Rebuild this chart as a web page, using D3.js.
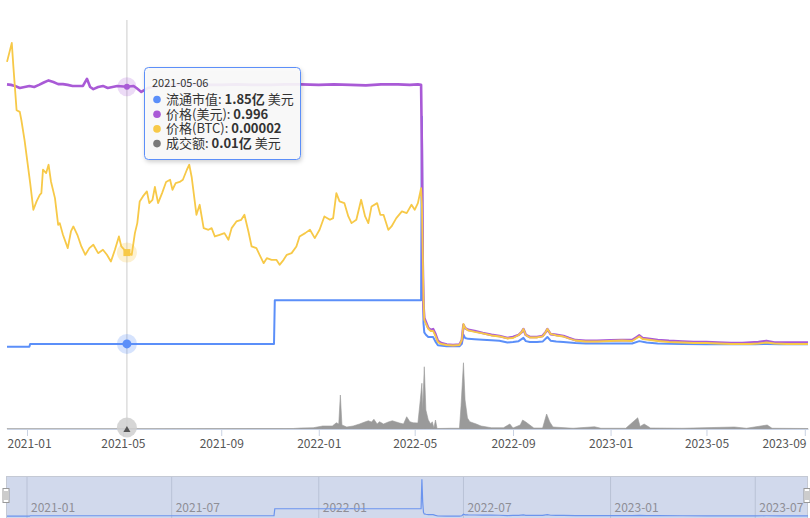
<!DOCTYPE html>
<html>
<head>
<meta charset="utf-8">
<script src="https://cdn.jsdelivr.net/npm/d3@7"></script>
<style>
  body { margin: 0; background: #fff; }
  svg { display: block; font-family: "Microsoft YaHei", "Noto Sans CJK SC", sans-serif; }
</style>
</head>
<body>
<svg id="chart" width="810" height="518"></svg>
<script>
// market cap, in 亿 USD
var marketCap = [
  ["2020-12-07", 1.79], ["2021-01-04", 1.79], ["2021-01-05", 1.85], ["2021-05-06", 1.85],
  ["2021-11-06", 1.85], ["2021-11-07", 2.80], ["2022-05-09", 2.80], ["2022-05-10", 6.79],
  ["2022-05-11", 3.75], ["2022-05-12", 2.30], ["2022-05-13", 2.10], ["2022-05-15", 2.05],
  ["2022-05-18", 2.00], ["2022-05-24", 2.00], ["2022-05-27", 1.90], ["2022-05-30", 1.82],
  ["2022-06-10", 1.80], ["2022-06-26", 1.80], ["2022-06-29", 1.85], ["2022-07-01", 2.05],
  ["2022-07-03", 1.98], ["2022-07-07", 1.96], ["2022-07-15", 1.95], ["2022-07-25", 1.94],
  ["2022-08-05", 1.93], ["2022-08-15", 1.92], ["2022-08-25", 1.88], ["2022-09-01", 1.89],
  ["2022-09-08", 1.91], ["2022-09-14", 1.98], ["2022-09-17", 1.91], ["2022-09-22", 1.89],
  ["2022-10-01", 1.89], ["2022-10-08", 1.90], ["2022-10-14", 2.00], ["2022-10-18", 1.92],
  ["2022-10-25", 1.90], ["2022-11-03", 1.89], ["2022-11-18", 1.87], ["2022-12-01", 1.86],
  ["2023-01-28", 1.86], ["2023-02-06", 1.91], ["2023-02-15", 1.88], ["2023-03-01", 1.86],
  ["2023-04-01", 1.85], ["2023-05-01", 1.84], ["2023-07-01", 1.84], ["2023-07-15", 1.85],
  ["2023-08-01", 1.84], ["2023-09-05", 1.84]
];

// price in USD
var priceUsd = [
  ["2020-12-07", 1.005], ["2020-12-12", 1.003], ["2020-12-17", 0.999], ["2020-12-23", 0.991],
  ["2020-12-29", 0.995], ["2021-01-04", 0.999], ["2021-01-10", 0.995], ["2021-01-16", 1.003],
  ["2021-01-22", 1.012], ["2021-01-28", 1.020], ["2021-02-03", 1.014], ["2021-02-09", 1.006],
  ["2021-02-15", 1.006], ["2021-02-21", 1.003], ["2021-02-27", 0.999], ["2021-03-06", 0.999],
  ["2021-03-12", 0.999], ["2021-03-17", 1.026], ["2021-03-21", 0.995], ["2021-03-25", 0.987],
  ["2021-03-31", 0.995], ["2021-04-06", 0.999], ["2021-04-12", 0.991], ["2021-04-18", 0.995],
  ["2021-04-24", 0.999], ["2021-05-06", 0.996], ["2021-05-14", 0.999], ["2021-05-18", 0.991],
  ["2021-05-24", 0.976], ["2021-06-01", 0.991], ["2021-06-15", 0.999], ["2021-07-01", 1.003],
  ["2021-07-20", 1.006], ["2021-08-10", 1.003], ["2021-09-01", 1.003], ["2021-09-20", 1.005],
  ["2021-10-10", 1.003], ["2021-11-01", 1.003], ["2021-11-20", 1.005], ["2021-12-10", 1.005],
  ["2022-01-01", 1.003], ["2022-01-20", 1.005], ["2022-02-10", 1.003], ["2022-03-01", 1.001],
  ["2022-03-20", 1.005], ["2022-04-10", 1.005], ["2022-04-25", 1.003], ["2022-05-05", 1.005],
  ["2022-05-09", 1.003], ["2022-05-10", 0.755], ["2022-05-11", 0.335], ["2022-05-12", 0.164],
  ["2022-05-13", 0.114], ["2022-05-15", 0.099], ["2022-05-18", 0.076], ["2022-05-21", 0.069],
  ["2022-05-24", 0.072], ["2022-05-27", 0.053], ["2022-05-30", 0.027], ["2022-06-03", 0.019],
  ["2022-06-10", 0.013], ["2022-06-18", 0.011], ["2022-06-26", 0.013], ["2022-06-29", 0.030],
  ["2022-07-01", 0.088], ["2022-07-03", 0.076], ["2022-07-07", 0.069], ["2022-07-15", 0.065],
  ["2022-07-25", 0.057], ["2022-08-05", 0.050], ["2022-08-15", 0.046], ["2022-08-25", 0.038],
  ["2022-09-01", 0.042], ["2022-09-08", 0.050], ["2022-09-12", 0.061], ["2022-09-14", 0.072],
  ["2022-09-17", 0.050], ["2022-09-22", 0.042], ["2022-10-01", 0.042], ["2022-10-08", 0.046],
  ["2022-10-12", 0.061], ["2022-10-14", 0.072], ["2022-10-18", 0.053], ["2022-10-25", 0.050],
  ["2022-11-03", 0.046], ["2022-11-10", 0.038], ["2022-11-18", 0.030], ["2022-12-01", 0.027],
  ["2022-12-15", 0.027], ["2023-01-01", 0.029], ["2023-01-15", 0.030], ["2023-01-28", 0.030],
  ["2023-02-03", 0.042], ["2023-02-06", 0.048], ["2023-02-10", 0.038], ["2023-02-15", 0.036],
  ["2023-03-01", 0.030], ["2023-03-15", 0.027], ["2023-04-01", 0.025], ["2023-04-15", 0.023],
  ["2023-05-01", 0.023], ["2023-05-15", 0.021], ["2023-06-01", 0.019], ["2023-06-15", 0.019],
  ["2023-06-25", 0.021], ["2023-07-05", 0.023], ["2023-07-15", 0.027], ["2023-07-25", 0.021],
  ["2023-08-10", 0.021], ["2023-08-25", 0.021], ["2023-09-05", 0.021]
];

// price in BTC
var priceBtc = [
  ["2020-12-07", 52.0e-6], ["2020-12-13", 55.4e-6], ["2020-12-15", 51.1e-6], ["2020-12-19", 43.3e-6],
  ["2020-12-23", 43.0e-6], ["2020-12-25", 41.5e-6], ["2020-12-29", 37.9e-6], ["2021-01-05", 30.2e-6],
  ["2021-01-09", 25.4e-6], ["2021-01-13", 26.9e-6], ["2021-01-17", 28.1e-6], ["2021-01-19", 28.4e-6],
  ["2021-01-21", 32.6e-6], ["2021-01-25", 32.0e-6], ["2021-01-28", 33.5e-6], ["2021-01-31", 30.5e-6],
  ["2021-02-05", 27.5e-6], ["2021-02-09", 22.7e-6], ["2021-02-11", 23.0e-6], ["2021-02-15", 20.9e-6],
  ["2021-02-21", 18.5e-6], ["2021-02-25", 21.5e-6], ["2021-02-28", 22.4e-6], ["2021-03-05", 20.9e-6],
  ["2021-03-10", 18.8e-6], ["2021-03-15", 17.3e-6], ["2021-03-20", 18.5e-6], ["2021-03-25", 19.1e-6],
  ["2021-03-31", 17.6e-6], ["2021-04-06", 18.2e-6], ["2021-04-11", 17.3e-6], ["2021-04-16", 16.1e-6],
  ["2021-04-21", 18.2e-6], ["2021-04-26", 20.6e-6], ["2021-04-29", 18.8e-6], ["2021-05-06", 17.7e-6],
  ["2021-05-12", 17.3e-6], ["2021-05-16", 21.2e-6], ["2021-05-19", 23.0e-6], ["2021-05-22", 26.9e-6],
  ["2021-05-26", 27.8e-6], ["2021-05-31", 28.7e-6], ["2021-06-03", 26.6e-6], ["2021-06-07", 27.2e-6],
  ["2021-06-10", 29.5e-6], ["2021-06-14", 26.6e-6], ["2021-06-19", 28.4e-6], ["2021-06-24", 30.4e-6],
  ["2021-06-29", 30.8e-6], ["2021-07-02", 29.0e-6], ["2021-07-06", 30.2e-6], ["2021-07-11", 30.4e-6],
  ["2021-07-15", 30.8e-6], ["2021-07-20", 32.6e-6], ["2021-07-23", 33.5e-6], ["2021-07-26", 31.3e-6],
  ["2021-08-01", 24.5e-6], ["2021-08-05", 26.3e-6], ["2021-08-10", 22.1e-6], ["2021-08-16", 21.8e-6],
  ["2021-08-20", 22.1e-6], ["2021-08-24", 20.6e-6], ["2021-08-30", 20.9e-6], ["2021-09-05", 21.2e-6],
  ["2021-09-10", 20.0e-6], ["2021-09-14", 22.1e-6], ["2021-09-20", 23.3e-6], ["2021-09-26", 23.6e-6],
  ["2021-09-30", 24.5e-6], ["2021-10-05", 21.5e-6], ["2021-10-09", 18.8e-6], ["2021-10-15", 18.5e-6],
  ["2021-10-19", 17.3e-6], ["2021-10-24", 15.8e-6], ["2021-10-28", 16.7e-6], ["2021-11-03", 16.4e-6],
  ["2021-11-09", 16.4e-6], ["2021-11-13", 15.5e-6], ["2021-11-18", 16.4e-6], ["2021-11-22", 17.3e-6],
  ["2021-11-28", 17.6e-6], ["2021-12-04", 18.8e-6], ["2021-12-08", 20.6e-6], ["2021-12-15", 21.2e-6],
  ["2021-12-21", 21.8e-6], ["2021-12-27", 20.3e-6], ["2022-01-02", 21.8e-6], ["2022-01-08", 24.2e-6],
  ["2022-01-15", 23.6e-6], ["2022-01-19", 23.9e-6], ["2022-01-23", 28.4e-6], ["2022-01-27", 26.9e-6],
  ["2022-02-02", 26.6e-6], ["2022-02-07", 24.2e-6], ["2022-02-11", 23.0e-6], ["2022-02-17", 23.6e-6],
  ["2022-02-23", 27.2e-6], ["2022-02-28", 24.2e-6], ["2022-03-04", 23.0e-6], ["2022-03-08", 26.0e-6],
  ["2022-03-15", 26.6e-6], ["2022-03-19", 24.5e-6], ["2022-03-23", 24.5e-6], ["2022-03-29", 21.8e-6],
  ["2022-04-02", 22.4e-6], ["2022-04-08", 23.9e-6], ["2022-04-15", 25.1e-6], ["2022-04-21", 24.8e-6],
  ["2022-04-27", 26.3e-6], ["2022-05-01", 25.4e-6], ["2022-05-05", 26.6e-6], ["2022-05-09", 29.3e-6],
  ["2022-05-10", 26.3e-6], ["2022-05-11", 18.2e-6], ["2022-05-12", 9.2e-6], ["2022-05-13", 5.6e-6],
  ["2022-05-15", 4.9e-6], ["2022-05-18", 4.0e-6], ["2022-05-21", 3.6e-6], ["2022-05-24", 3.6e-6],
  ["2022-05-27", 2.7e-6], ["2022-05-30", 1.6e-6], ["2022-06-03", 1.26e-6], ["2022-06-10", 1.08e-6],
  ["2022-06-18", 0.99e-6], ["2022-06-26", 1.08e-6], ["2022-06-29", 1.98e-6], ["2022-07-01", 4.86e-6],
  ["2022-07-03", 4.14e-6], ["2022-07-07", 3.69e-6], ["2022-07-15", 3.42e-6], ["2022-07-25", 3.15e-6],
  ["2022-08-05", 2.79e-6], ["2022-08-15", 2.61e-6], ["2022-08-25", 2.25e-6], ["2022-09-01", 2.34e-6],
  ["2022-09-08", 2.88e-6], ["2022-09-12", 3.42e-6], ["2022-09-14", 3.96e-6], ["2022-09-17", 2.88e-6],
  ["2022-09-22", 2.43e-6], ["2022-10-01", 2.43e-6], ["2022-10-08", 2.61e-6], ["2022-10-12", 3.42e-6],
  ["2022-10-14", 3.96e-6], ["2022-10-18", 3.06e-6], ["2022-10-25", 2.79e-6], ["2022-11-03", 2.61e-6],
  ["2022-11-10", 2.25e-6], ["2022-11-18", 1.89e-6], ["2022-12-01", 1.71e-6], ["2022-12-15", 1.71e-6],
  ["2023-01-01", 1.80e-6], ["2023-01-15", 1.89e-6], ["2023-01-28", 1.80e-6], ["2023-02-03", 2.34e-6],
  ["2023-02-06", 2.61e-6], ["2023-02-10", 2.16e-6], ["2023-02-15", 2.07e-6], ["2023-03-01", 1.80e-6],
  ["2023-03-15", 1.62e-6], ["2023-04-01", 1.53e-6], ["2023-04-15", 1.44e-6], ["2023-05-01", 1.44e-6],
  ["2023-05-15", 1.35e-6], ["2023-06-01", 1.26e-6], ["2023-06-25", 1.26e-6], ["2023-07-05", 1.35e-6],
  ["2023-07-15", 1.53e-6], ["2023-07-25", 1.35e-6], ["2023-08-10", 1.26e-6], ["2023-09-05", 1.26e-6]
];

// 24h volume, in 亿 USD
var volume = [
  ["2020-12-07", 0.01], ["2021-05-06", 0.01], ["2021-11-30", 0.02], ["2021-12-10", 0.04],
  ["2021-12-25", 0.05], ["2022-01-06", 0.12], ["2022-01-18", 0.12], ["2022-01-23", 0.25],
  ["2022-01-26", 0.20], ["2022-01-28", 1.36], ["2022-01-30", 0.16], ["2022-02-05", 0.08],
  ["2022-02-13", 0.12], ["2022-02-21", 0.20], ["2022-02-25", 0.25], ["2022-03-04", 0.33],
  ["2022-03-08", 0.28], ["2022-03-11", 0.39], ["2022-03-15", 0.20], ["2022-03-18", 0.29],
  ["2022-03-23", 0.20], ["2022-03-29", 0.28], ["2022-04-03", 0.33], ["2022-04-07", 0.29],
  ["2022-04-12", 0.24], ["2022-04-17", 0.20], ["2022-04-21", 0.49], ["2022-04-25", 0.29],
  ["2022-04-29", 0.25], ["2022-05-05", 0.24], ["2022-05-08", 1.16], ["2022-05-10", 1.83],
  ["2022-05-11", 0.76], ["2022-05-13", 2.49], ["2022-05-15", 0.76], ["2022-05-18", 0.36],
  ["2022-05-21", 0.20], ["2022-05-23", 0.29], ["2022-05-25", 0.04], ["2022-05-27", 0.36],
  ["2022-05-29", 0.02], ["2022-06-15", 0.03], ["2022-06-26", 0.03], ["2022-06-28", 0.93],
  ["2022-07-01", 2.65], ["2022-07-03", 1.16], ["2022-07-06", 0.44], ["2022-07-09", 0.29],
  ["2022-07-17", 0.20], ["2022-07-23", 0.12], ["2022-08-05", 0.05], ["2022-08-20", 0.05],
  ["2022-08-28", 0.20], ["2022-09-01", 0.04], ["2022-09-10", 0.16], ["2022-09-13", 0.36],
  ["2022-09-17", 0.28], ["2022-09-27", 0.04], ["2022-10-08", 0.04], ["2022-10-13", 0.60],
  ["2022-10-17", 0.28], ["2022-10-21", 0.08], ["2022-11-15", 0.03], ["2022-12-12", 0.09],
  ["2022-12-20", 0.03], ["2023-01-20", 0.03], ["2023-02-04", 0.45], ["2023-02-07", 0.10],
  ["2023-02-12", 0.20], ["2023-02-20", 0.04], ["2023-04-01", 0.03], ["2023-06-05", 0.08],
  ["2023-06-20", 0.03], ["2023-07-16", 0.16], ["2023-07-22", 0.03], ["2023-09-05", 0.02]
];

var axisTicks = ["2021-01-01", "2021-05-01", "2021-09-01", "2022-01-01", "2022-05-01",
                 "2022-09-01", "2023-01-01", "2023-05-01", "2023-09-01"];
var zoomTicks = ["2021-01-01", "2021-07-01", "2022-01-01", "2022-07-01", "2023-01-01", "2023-07-01"];
var hoverDate = "2021-05-06";

var seriesNames = ["流通市值", "价格(美元)", "价格(BTC)", "成交额"];
var colors = ["#5b8ff9", "#a95ad6", "#f7c948", "#7a7a7a"];

var parse = d3.utcParse("%Y-%m-%d");
var svg = d3.select("#chart");

var defs = svg.append("defs");
defs.append("filter").attr("id", "shadow").attr("x", "-10%").attr("y", "-10%")
  .attr("width", "130%").attr("height", "140%")
  .append("feDropShadow").attr("dx", 1).attr("dy", 2).attr("stdDeviation", 2)
  .attr("flood-color", "#000").attr("flood-opacity", 0.2);

var x = d3.scaleUtc().domain([parse("2020-12-07"), parse("2023-09-05")]).range([7, 808]);
// each series has its own hidden value axis
var yCap = d3.scaleLinear().domain([0, 8]).range([429, 61]);
var yUsd = d3.scaleLinear().domain([0, 1.2]).range([348, 33.2]);
var yBtc = d3.scaleLinear().domain([0, 60e-6]).range([351, 17.4]);
var yVol = d3.scaleLinear().domain([0, 3]).range([429, 354]);
var yZoom = d3.scaleLinear().domain([1.79, 6.79]).range([516.2, 479.3]);

function lineFor(y) {
  return d3.line().x(function(d) { return x(parse(d[0])); }).y(function(d) { return y(d[1]); });
}

// volume area
svg.append("path").datum(volume)
  .attr("d", d3.area().x(function(d) { return x(parse(d[0])); })
    .y0(yVol(0)).y1(function(d) { return yVol(d[1]); }))
  .attr("fill", "#9a9a9a").attr("stroke", "#9a9a9a").attr("stroke-width", 0.6);

// x axis
var axis = svg.append("g").attr("transform", "translate(0,429)")
  .call(d3.axisBottom(x).tickValues(axisTicks.map(parse)).tickFormat(d3.utcFormat("%Y-%m"))
    .tickSize(7).tickPadding(3).tickSizeOuter(0));
axis.select(".domain").attr("stroke", "#c9d2e3");
axis.selectAll(".tick line").attr("stroke", "#c9d2e3");
axis.selectAll(".tick text").attr("fill", "#555").style("font-size", "12px")
  .style("font-family", "'Microsoft YaHei','Noto Sans CJK SC',sans-serif");
// keep the end labels inside the chart
var tickTexts = axis.selectAll(".tick text").nodes();
d3.select(tickTexts[0]).attr("text-anchor", "start").attr("x", 7 - x(parse(axisTicks[0])));
d3.select(tickTexts[tickTexts.length - 1]).attr("text-anchor", "end")
  .attr("x", 806 - x(parse(axisTicks[axisTicks.length - 1])));

// crosshair
var hx = x(parse(hoverDate));
svg.append("line").attr("x1", hx).attr("x2", hx).attr("y1", 20).attr("y2", 429)
  .attr("stroke", "#cccccc").attr("stroke-width", 1);

// lines
svg.append("path").datum(marketCap).attr("d", lineFor(yCap))
  .attr("fill", "none").attr("stroke", colors[0]).attr("stroke-width", 2).attr("stroke-linejoin", "round");
svg.append("path").datum(priceUsd).attr("d", lineFor(yUsd))
  .attr("fill", "none").attr("stroke", colors[1]).attr("stroke-width", 2.6).attr("stroke-linejoin", "round");
svg.append("path").datum(priceBtc).attr("d", lineFor(yBtc))
  .attr("fill", "none").attr("stroke", colors[2]).attr("stroke-width", 1.8).attr("stroke-linejoin", "round");

function valueAt(arr) {
  return arr.find(function(d) { return d[0] === hoverDate; })[1];
}

// hover markers
var capY = yCap(valueAt(marketCap)), usdY = yUsd(valueAt(priceUsd)), btcY = yBtc(valueAt(priceBtc));
svg.append("circle").attr("cx", hx).attr("cy", capY).attr("r", 10).attr("fill", colors[0]).attr("opacity", 0.25);
svg.append("circle").attr("cx", hx).attr("cy", capY).attr("r", 4.5).attr("fill", colors[0]);
svg.append("circle").attr("cx", hx).attr("cy", usdY).attr("r", 9.5).attr("fill", colors[1]).attr("opacity", 0.22);
svg.append("circle").attr("cx", hx).attr("cy", usdY).attr("r", 3).attr("fill", colors[1]);
svg.append("circle").attr("cx", hx).attr("cy", btcY).attr("r", 10).attr("fill", colors[2]).attr("opacity", 0.25);
svg.append("rect").attr("x", hx - 3.5).attr("y", btcY - 3.5).attr("width", 7).attr("height", 7).attr("fill", colors[2]);

// axis pointer handle
svg.append("circle").attr("cx", hx).attr("cy", 427.5).attr("r", 10).attr("fill", "#cfcfcf").attr("opacity", 0.85);
svg.append("path").attr("d", "M" + hx + ",426 L" + (hx - 3.5) + ",432 L" + (hx + 3.5) + ",432 Z").attr("fill", "#555");

// data zoom
var dz = svg.append("g");
dz.append("rect").attr("x", 6.5).attr("y", 476.5).attr("width", 801).attr("height", 45)
  .attr("fill", "#d1d9ec").attr("stroke", "#c4c9d4");
zoomTicks.forEach(function(t) {
  var tx = x(parse(t));
  dz.append("line").attr("x1", tx).attr("x2", tx).attr("y1", 477).attr("y2", 518)
    .attr("stroke", "#b9c2d6");
  dz.append("text").attr("x", tx + 4).attr("y", 512).text(d3.utcFormat("%Y-%m")(parse(t)))
    .attr("fill", "#8e8e96").style("font-size", "12px");
});
dz.append("path").datum(marketCap)
  .attr("d", d3.line().x(function(d) { return x(parse(d[0])); }).y(function(d) { return yZoom(d[1]); }))
  .attr("fill", "none").attr("stroke", "#6b94ee").attr("stroke-width", 1.2);
[6, 807].forEach(function(hxz) {
  dz.append("rect").attr("x", hxz - 3).attr("y", 488.5).attr("width", 6).attr("height", 14)
    .attr("fill", "#fff").attr("stroke", "#999");
  dz.append("line").attr("x1", hxz - 1).attr("x2", hxz - 1).attr("y1", 491).attr("y2", 500).attr("stroke", "#999");
  dz.append("line").attr("x1", hxz + 1).attr("x2", hxz + 1).attr("y1", 491).attr("y2", 500).attr("stroke", "#999");
});

// tooltip
var fmtDate = d3.utcFormat("%Y-%m-%d");
var rows = [
  [seriesNames[0] + ": ", d3.format(".2f")(valueAt(marketCap)) + "亿", " 美元"],
  [seriesNames[1] + ": ", d3.format(".3f")(valueAt(priceUsd)), ""],
  [seriesNames[2] + ": ", d3.format(".5f")(valueAt(priceBtc)), ""],
  [seriesNames[3] + ": ", d3.format(".2f")(valueAt(volume)) + "亿", " 美元"]
];
var tip = svg.append("g");
tip.append("rect").attr("x", 144.5).attr("y", 67.5).attr("width", 156).attr("height", 92).attr("rx", 4)
  .attr("fill", "rgba(250,250,250,0.9)").attr("stroke", colors[0]).attr("filter", "url(#shadow)");
tip.append("text").attr("x", 152).attr("y", 87).text(fmtDate(parse(hoverDate)))
  .attr("fill", "#333").style("font-size", "11px");
rows.forEach(function(r, i) {
  var by = 104 + i * 14.7;
  tip.append("circle").attr("cx", 157).attr("cy", by - 4.5).attr("r", 3.8).attr("fill", colors[i]);
  var t = tip.append("text").attr("x", 166).attr("y", by).attr("fill", "#333").style("font-size", "13px");
  t.append("tspan").text(r[0]);
  t.append("tspan").attr("font-weight", "bold").text(r[1]);
  t.append("tspan").attr("xml:space", "preserve").text(r[2]);
});
</script>
</body>
</html>
